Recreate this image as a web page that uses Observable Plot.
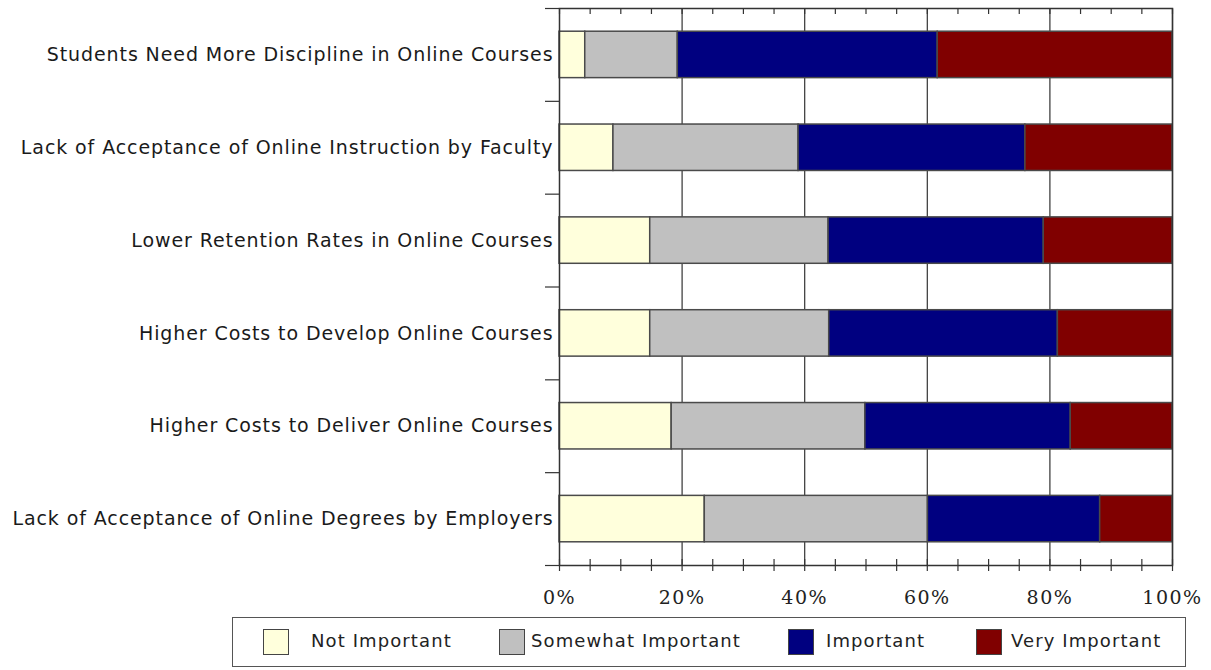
<!DOCTYPE html>
<html>
<head>
<meta charset="utf-8">
<script src="https://cdn.jsdelivr.net/npm/d3@7"></script>
<script src="https://cdn.jsdelivr.net/npm/@observablehq/plot@0.6"></script>
<style>
  html, body { margin: 0; padding: 0; background: #fff; }
  #wrap { position: relative; width: 1211px; height: 670px; font-family: "DejaVu Sans", sans-serif; }
  #legend { position: absolute; left: 232px; top: 617px; width: 954px; height: 50px; border: 1.5px solid #555; box-sizing: border-box; }
  .sw { position: absolute; top: 11px; width: 26px; height: 26px; border: 1.5px solid #444; box-sizing: border-box; }
  .lt { position: absolute; top: 12px; font-size: 18px; letter-spacing: 1.1px; color: #222; white-space: nowrap; line-height: 22px; }
</style>
</head>
<body>
<div id="wrap"></div>
<script>
const categories = [
  "Students Need More Discipline in Online Courses",
  "Lack of Acceptance of Online Instruction by Faculty",
  "Lower Retention Rates in Online Courses",
  "Higher Costs to Develop Online Courses",
  "Higher Costs to Deliver Online Courses",
  "Lack of Acceptance of Online Degrees by Employers"
];
const levels = ["Not Important", "Somewhat Important", "Important", "Very Important"];
const colors = ["#ffffdc", "#c0c0c0", "#000080", "#800000"];
const notImportant      = [4.2, 8.8, 14.8, 14.8, 18.3, 23.7];
const somewhatImportant = [15.1, 30.2, 29.1, 29.2, 31.6, 36.4];
const important         = [42.4, 37.0, 35.1, 37.3, 33.5, 28.1];
const veryImportant     = [38.3, 24.0, 21.0, 18.7, 16.6, 11.8];
const xTickLabels = [0, 20, 40, 60, 80, 100];
const xMinorTicks = d3.range(0, 101, 5);

const series = [notImportant, somewhatImportant, important, veryImportant];
const rows = [];
categories.forEach((c, i) => levels.forEach((l, j) => rows.push({category: c, level: l, value: series[j][i]})));

const W = 1211, H = 612, mt = 8, mb = 47;
const step = (H - mt - mb) / categories.length;

const chart = Plot.plot({
  width: W, height: H,
  marginLeft: 559, marginRight: 39, marginTop: mt, marginBottom: mb,
  style: {fontFamily: "DejaVu Sans, sans-serif", background: "#fff"},
  x: {domain: [0, 100], label: null},
  y: {domain: categories, paddingInner: 0.5, paddingOuter: 0.25, align: 0.5, round: false, label: null},
  color: {domain: levels, range: colors},
  marks: [
    Plot.gridX(xTickLabels.slice(1), {stroke: "#333", strokeOpacity: 1, strokeWidth: 1.2}),
    Plot.barX(rows, Plot.stackX({x: "value", y: "category", fill: "level", order: levels, stroke: "#4a4a4a", strokeWidth: 1.5})),
    Plot.frame({stroke: "#333", strokeWidth: 1.5}),
    Plot.axisX(xMinorTicks, {anchor: "bottom", label: null, tickSize: 12, dy: -6, tickFormat: () => "", stroke: "#333", strokeWidth: 1.2}),
    Plot.axisX(xMinorTicks, {anchor: "top", label: null, tickSize: 5, dy: 5, tickFormat: () => "", stroke: "#333", strokeWidth: 1.2}),
    Plot.axisX(xTickLabels, {anchor: "bottom", label: null, tickSize: 0, tickPadding: 25, tickFormat: d => d + "%", fontSize: 19, fill: "#222", fontFamily: "DejaVu Serif, serif"}),
    Plot.axisY({label: null, tickSize: 0, tickPadding: 6, fontSize: 19, fill: "#1a1a1a"}),
    Plot.axisY(categories, {label: null, tickSize: 14, dy: step / 2, tickFormat: () => "", stroke: "#333", strokeWidth: 1.2}),
    Plot.axisY(categories.slice(0, 1), {label: null, tickSize: 14, dy: -step / 2, tickFormat: () => "", stroke: "#333", strokeWidth: 1.2})
  ]
});

const wrap = document.getElementById("wrap");
wrap.appendChild(chart);
d3.select(chart).selectAll("g[aria-label='y-axis tick label'] text").style("letter-spacing", "0.9px");
d3.select(chart).selectAll("g[aria-label='x-axis tick label'] text").style("letter-spacing", "1.5px");

const legend = document.createElement("div");
legend.id = "legend";
const swatchX = [30, 266, 555, 743];
const textX = [78, 298, 593, 778];
levels.forEach((l, i) => {
  const s = document.createElement("div");
  s.className = "sw";
  s.style.left = swatchX[i] + "px";
  s.style.background = colors[i];
  legend.appendChild(s);
  const t = document.createElement("div");
  t.className = "lt";
  t.style.left = textX[i] + "px";
  t.textContent = l;
  legend.appendChild(t);
});
wrap.appendChild(legend);
</script>
</body>
</html>
